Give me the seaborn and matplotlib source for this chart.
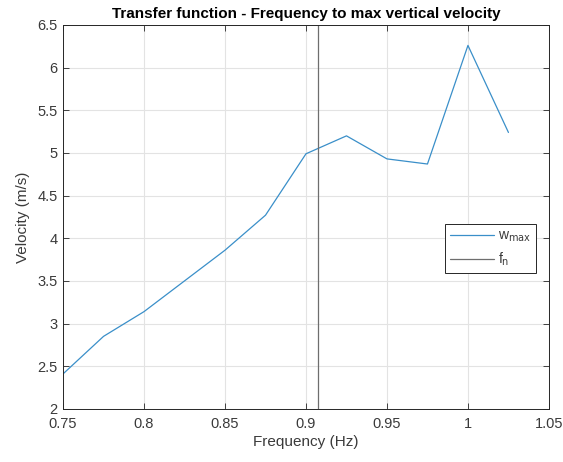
import matplotlib
matplotlib.use("Agg")
import matplotlib.pyplot as plt
import seaborn as sns
import pandas as pd

# Excitation frequency (Hz) and resulting max vertical velocity (m/s)
frequency = [0.75, 0.775, 0.8, 0.825, 0.85, 0.875, 0.9, 0.925, 0.95, 0.975, 1.0, 1.025]
velocity = [2.41, 2.85, 3.14, 3.50, 3.86, 4.27, 4.99, 5.20, 4.93, 4.87, 6.26, 5.24]
natural_freq = 0.9075

x_ticks = [0.75, 0.8, 0.85, 0.9, 0.95, 1.0, 1.05]
x_tick_labels = ["0.75", "0.8", "0.85", "0.9", "0.95", "1", "1.05"]
y_ticks = [2, 2.5, 3, 3.5, 4, 4.5, 5, 5.5, 6, 6.5]
y_tick_labels = ["2", "2.5", "3", "3.5", "4", "4.5", "5", "5.5", "6", "6.5"]

df = pd.DataFrame({"freq": frequency, "vel": velocity})

sns.set_theme(style="white")
plt.rcParams["font.family"] = ["Liberation Sans", "DejaVu Sans"]

fig = plt.figure(figsize=(5.63, 4.62), dpi=100)
ax = fig.add_axes([0.112, 0.115, 0.863, 0.831])

axis_color = "#262626"
label_color = "#3a3a3a"
ax.grid(True, color="#e3e3e3", linewidth=0.8)
ax.set_axisbelow(True)

sns.lineplot(data=df, x="freq", y="vel", ax=ax, color="#3a8fc9",
             linewidth=0.9, label=r"w$_{\rm max}$")
ax.axvline(natural_freq, color="#6e6e6e", linewidth=0.9, label=r"f$_{\rm n}$")

ax.set_xlim(0.75, 1.05)
ax.set_ylim(2, 6.5)
ax.set_xticks(x_ticks)
ax.set_xticklabels(x_tick_labels)
ax.set_yticks(y_ticks)
ax.set_yticklabels(y_tick_labels)

for spine in ax.spines.values():
    spine.set_color(axis_color)
    spine.set_linewidth(0.7)

ax.tick_params(axis="both", direction="in", length=4, width=0.6,
               colors=axis_color, labelsize=10.5,
               top=True, right=True, bottom=True, left=True)
ax.tick_params(axis="x", pad=6)
ax.tick_params(axis="y", pad=4)
ax.tick_params(axis="both", labelcolor=label_color)

ax.set_xlabel("Frequency (Hz)", fontsize=11, color=label_color, labelpad=3)
ax.set_ylabel("Velocity (m/s)", fontsize=11, color=label_color, labelpad=5)
ax.set_title("Transfer function - Frequency to max vertical velocity",
             fontsize=11, fontweight="bold", color="black", pad=5)

leg = ax.legend(loc="upper left", bbox_to_anchor=(0.786, 0.482),
                fontsize=10, frameon=True, fancybox=False,
                handlelength=3.2, handletextpad=0.3, borderpad=0.35,
                labelspacing=0.5, borderaxespad=0)
leg.get_frame().set_edgecolor("#262626")
leg.get_frame().set_linewidth(0.7)
leg.get_frame().set_facecolor("white")
leg.get_frame().set_alpha(1.0)
for txt in leg.get_texts():
    txt.set_color(label_color)

fig.savefig("out.png", dpi=100)
